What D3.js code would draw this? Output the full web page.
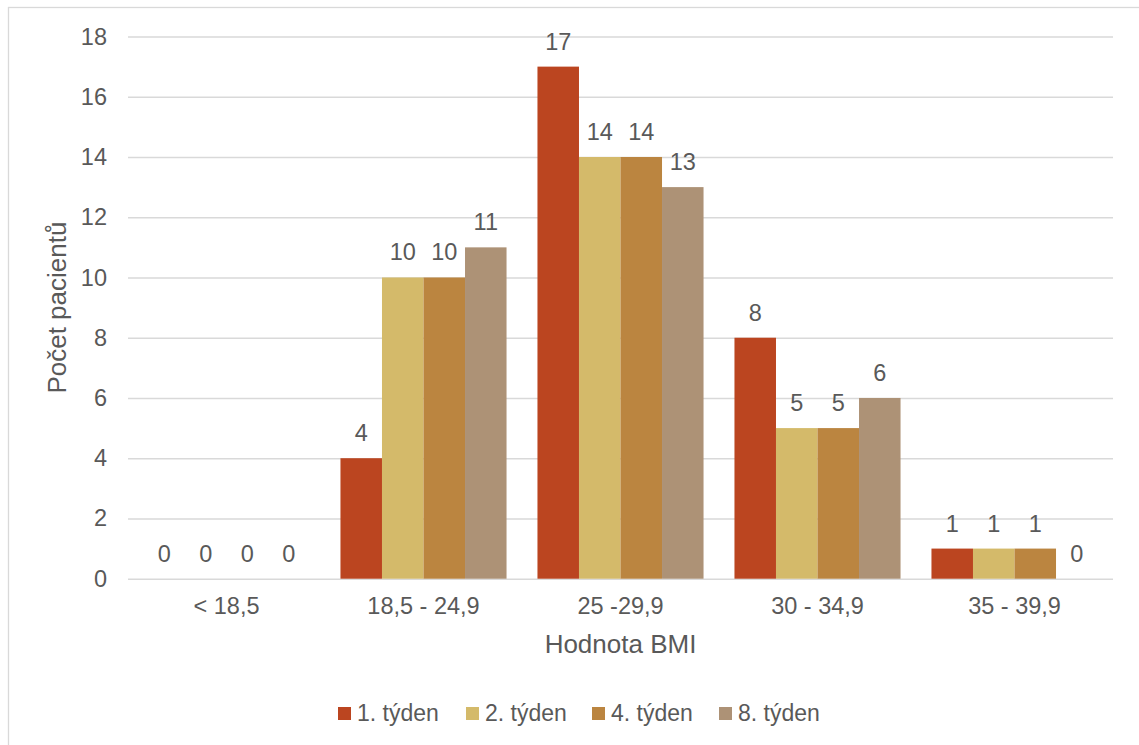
<!DOCTYPE html>
<html>
<head>
<meta charset="utf-8">
<script src="https://cdn.jsdelivr.net/npm/d3@7"></script>
<style>
  body { margin: 0; background: #fff; }
  svg text { font-family: "Liberation Sans", Arial, sans-serif; fill: #595959; }
</style>
</head>
<body>
<svg class="chart"></svg>
<script>
// DATA /////////////////////////////////////////
const categories = ["< 18,5", "18,5 - 24,9", "25 -29,9", "30 - 34,9", "35 - 39,9"];
const seriesNames = ["1. týden", "2. týden", "4. týden", "8. týden"];
const week1 = [0, 4, 17, 8, 1];
const week2 = [0, 10, 14, 5, 1];
const week4 = [0, 10, 14, 5, 1];
const week8 = [0, 11, 13, 6, 0];
const yTicks = [0, 2, 4, 6, 8, 10, 12, 14, 16, 18];
const colors = ["#BB4520", "#D4BA6A", "#BB8540", "#AD9276"];

const seriesValues = [week1, week2, week4, week8];

// DEFINITIONS /////////////////////////////////
const W = 1139, H = 745;
const plot = { left: 128, right: 1113, top: 36.5, bottom: 578.7 };

const svg = d3.select(".chart").attr("width", W).attr("height", H);

// outer frame (only top and left edges visible)
svg.append("rect")
  .attr("x", 8.5).attr("y", 7.5)
  .attr("width", 1200).attr("height", 800)
  .attr("fill", "none").attr("stroke", "#d9d9d9").attr("stroke-width", 1.3);

const x0 = d3.scaleBand()
  .domain(categories)
  .range([plot.left, plot.right])
  .paddingInner(0.157)
  .paddingOuter(0.0785);

const x1 = d3.scaleBand()
  .domain(seriesNames)
  .range([0, x0.bandwidth()]);

const y = d3.scaleLinear().domain([0, 18]).range([plot.bottom, plot.top]);

// GRID + Y AXIS ////////////////////////////////
const yAxis = svg.append("g")
  .attr("transform", `translate(${plot.left},0)`)
  .call(d3.axisLeft(y).tickValues(yTicks).tickSize(-(plot.right - plot.left)).tickPadding(21));
yAxis.select(".domain").remove();
yAxis.selectAll(".tick line").attr("stroke", "#d9d9d9").attr("stroke-width", 1.5);
yAxis.selectAll(".tick text").attr("font-size", "23.5px").attr("fill", "#595959");

// X AXIS labels ////////////////////////////////
const xAxis = svg.append("g")
  .attr("transform", `translate(0,${plot.bottom})`)
  .call(d3.axisBottom(x0).tickSize(0).tickPadding(19));
xAxis.select(".domain").remove();
xAxis.selectAll(".tick text").attr("font-size", "23.5px").attr("fill", "#595959");

// BARS /////////////////////////////////////////
const rows = categories.map((c, i) => ({
  cat: c,
  vals: seriesNames.map((s, j) => ({ s, v: seriesValues[j][i], color: colors[j] }))
}));

const groups = svg.selectAll(".grp")
  .data(rows)
  .join("g")
  .attr("class", "grp")
  .attr("transform", (d) => `translate(${x0(d.cat)},0)`);

groups.selectAll("rect")
  .data((d) => d.vals)
  .join("rect")
  .attr("x", (d) => x1(d.s))
  .attr("y", (d) => y(d.v))
  .attr("width", x1.bandwidth())
  .attr("height", (d) => y(0) - y(d.v))
  .attr("fill", (d) => d.color);

groups.selectAll("text")
  .data((d) => d.vals)
  .join("text")
  .attr("x", (d) => x1(d.s) + x1.bandwidth() / 2)
  .attr("y", (d) => y(d.v) - 17)
  .attr("text-anchor", "middle")
  .attr("font-size", "23.5px")
  .text((d) => d.v);

// AXIS TITLES //////////////////////////////////
svg.append("text")
  .attr("x", (plot.left + plot.right) / 2)
  .attr("y", 653)
  .attr("text-anchor", "middle")
  .attr("font-size", "26px")
  .text("Hodnota BMI");

svg.append("text")
  .attr("transform", `translate(66,${(plot.top + plot.bottom) / 2}) rotate(-90)`)
  .attr("text-anchor", "middle")
  .attr("font-size", "26px")
  .text("Počet pacientů");

// LEGEND ///////////////////////////////////////
const legendX = [338, 466, 592, 719];
const legend = svg.selectAll(".leg")
  .data(seriesNames)
  .join("g")
  .attr("class", "leg")
  .attr("transform", (d, i) => `translate(${legendX[i]},707)`);

legend.append("rect")
  .attr("width", 13).attr("height", 13)
  .attr("fill", (d, i) => colors[i]);

legend.append("text")
  .attr("x", 19).attr("y", 14)
  .attr("font-size", "23px")
  .text((d) => d);
</script>
</body>
</html>
